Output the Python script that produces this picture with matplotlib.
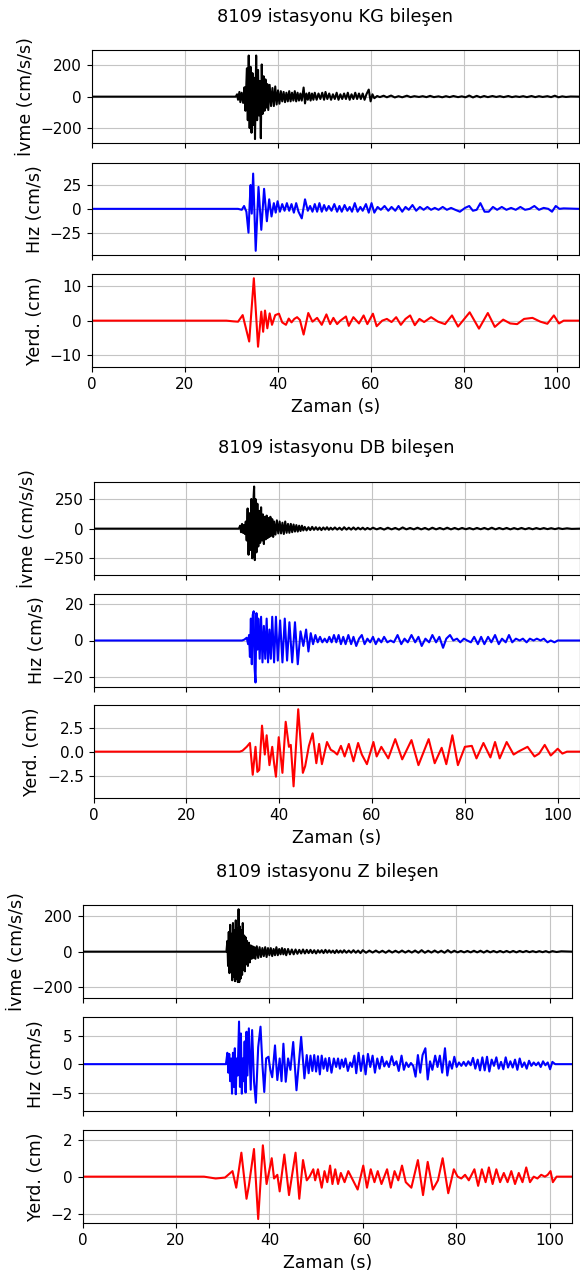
import numpy as np
import matplotlib.pyplot as plt

# 8109 station records: (time s, value) at the visible peaks

# --- KG component ---
kg_ivme = [(0, 0), (31.0, 0), (31.3, 15), (31.5, -20), (31.8, 30), (32.0, -35), (32.3, 25), (32.6, -40),
           (32.9, 60), (33.1, -90), (33.4, 180), (33.6, -150), (33.8, 262), (34.0, -200), (34.2, 190),
           (34.4, -230), (34.6, 150), (34.8, -180), (35.0, 120), (35.15, -270), (35.4, 262), (35.6, -150),
           (35.8, 170), (36.0, -120), (36.2, 100), (36.4, -265), (36.6, 205), (36.8, -110), (37.0, 130),
           (37.2, -90), (37.4, 110), (37.6, -70), (37.8, 80), (38.0, -85), (38.3, 75), (38.6, -60), (38.9, 55),
           (39.2, -60), (39.5, 65), (39.8, -50), (40.1, 40), (40.4, -45), (40.7, 35), (41.0, -30), (41.3, 30),
           (41.6, -35), (41.9, 25), (42.2, -30), (42.5, 35), (42.8, -30), (43.1, 25), (43.4, -25), (43.7, 35),
           (44.0, -30), (44.3, 25), (44.6, -25), (44.9, 20), (45.2, -25), (45.6, 58), (45.9, -43), (46.2, 20),
           (46.5, -20), (46.8, 25), (47.1, -25), (47.4, 20), (47.7, -20), (48.0, 25), (48.4, -20), (48.8, 20),
           (49.2, -15), (49.6, 25), (50.0, -20), (50.3, 30), (50.7, -15), (51.1, 20), (51.5, -20), (51.9, 15),
           (52.3, -15), (52.7, 25), (53.1, -20), (53.5, 15), (53.9, -15), (54.3, 20), (54.7, -15), (55.1, 25),
           (55.5, -20), (55.9, 15), (56.3, -15), (56.7, 25), (57.1, -15), (57.5, 20), (57.9, -15), (58.3, 20),
           (58.7, -20), (59.1, 15), (59.6, 45), (60.0, -30), (60.4, 15), (60.8, -10), (61.4, 4), (62.0, -3),
           (62.8, 6), (63.5, -4), (64.4, 7), (65.2, -5), (66.0, 3), (66.8, -4), (67.8, 6), (68.6, -3),
           (69.4, 3), (70.4, -2), (71.2, 3), (72.0, -3), (72.8, 5), (73.6, -3), (74.6, 2), (75.4, -4), (76.2, 3),
           (77.0, -3), (77.8, 4), (78.8, -3), (79.6, 2), (80.4, -4), (81.2, 7), (82.0, -5), (82.8, 5),
           (83.6, -4), (84.4, 4), (85.2, -3), (86.2, 4), (87.0, -2), (87.8, 3), (88.6, -3), (89.6, 4), (90.4, -3),
           (91.2, 2), (92.0, -2), (92.8, 3), (93.6, -3), (94.6, 4), (95.4, -3), (96.2, 3), (97.0, -2), (98.0, 3),
           (98.8, -3), (99.6, 6), (100.4, -4), (101.2, 2), (102.0, -2), (103.0, 1), (104.8, 0)]

kg_hiz = [(0, 0), (31.5, 0), (32.3, -1), (32.8, 3), (33.3, -3), (33.75, -25), (34.0, 5), (34.2, 25), (34.45, -5),
          (34.75, 37), (35.3, -44), (35.9, 23), (36.5, -22), (37.1, 21), (37.7, -13), (38.2, 10), (38.7, -8),
          (39.2, 6), (39.6, -4), (40.0, 8), (40.5, -3), (41.0, 5), (41.5, -2), (42.0, 6), (42.5, -2), (43.0, 5),
          (43.5, -4), (44.0, 6), (44.5, -3), (45.2, -10), (45.9, 10), (46.5, -2), (47.0, 3), (47.5, -3), (48.0, 5),
          (48.5, -3), (49.0, 6), (49.5, -3), (50.0, 4), (50.5, -2), (51.0, 3), (51.6, -2), (52.2, 5), (52.8, -3),
          (53.3, 3), (53.8, -3), (54.4, 4), (55.0, -2), (55.5, 2), (56.0, -3), (56.6, 6), (57.2, -3), (57.8, 2),
          (58.3, -2), (59.0, 5), (59.6, -4), (60.2, 6), (60.8, -4), (61.5, 2), (62.2, -1), (63.0, 3), (63.8, -2),
          (64.5, 2), (65.3, -2), (66.0, 3), (66.8, -3), (67.5, 2), (68.2, -1), (69.0, 4), (69.8, -2), (70.6, 2),
          (71.4, -1), (72.2, 2), (73.0, -1), (73.8, 1), (74.6, -1), (75.5, 2), (76.4, -1), (77.3, 1), (78.2, -1),
          (79.2, -3), (80.3, 1), (81.2, 3), (82.0, -2), (82.8, -1), (83.6, 6), (84.5, -3), (85.4, -3), (86.3, 2),
          (87.2, -1), (88.2, 2), (89.2, -1), (90.2, 1), (91.2, -1), (92.2, 2), (93.2, -1), (94.2, 0), (95.2, 3),
          (96.2, -1), (97.2, 1), (98.2, 0), (99.0, -3), (99.8, 3), (100.6, 0), (101.5, 0.5), (104.8, 0)]

kg_yerd = [(0, 0), (29.0, 0), (30.5, -0.2), (31.5, -0.3), (32.5, 1.6), (33.9, -6.0), (34.9, 12.2), (35.8, -7.5),
           (36.5, 2.6), (36.9, -3.2), (37.3, 2.9), (37.8, -2.2), (38.3, 2.1), (38.8, -1.2), (39.5, 1.6), (40.3, 2.0),
           (41.0, -0.5), (41.8, -1.2), (42.4, 0.6), (43.0, -0.5), (43.6, 0.5), (44.2, 1.0), (44.8, 0.2), (45.6, -4.0),
           (46.6, 2.2), (47.5, -0.3), (48.5, 0.8), (49.5, -1.2), (50.5, 1.8), (51.3, -1.0), (52.0, 0.8), (52.8, -1.0),
           (53.5, 0.0), (54.7, 1.2), (55.3, -1.5), (56.3, 1.0), (57.5, -0.8), (58.5, 1.5), (59.3, -1.0), (60.5, 2.0),
           (61.3, -1.6), (62.5, 0.0), (63.5, 0.5), (64.5, -0.4), (65.5, 1.0), (66.5, -1.2), (67.5, 0.5), (68.5, 1.5),
           (69.5, -1.3), (70.5, 0.5), (71.5, -0.4), (73.0, 1.0), (74.5, -0.3), (76.0, -1.0), (77.5, 1.5),
           (78.8, -1.7), (81.3, 2.4), (83.3, -2.3), (85.2, 2.2), (86.7, -1.8), (88.5, 0.3), (90.0, -0.8),
           (91.5, -1.0), (93.0, 0.5), (94.8, 0.8), (96.5, -0.3), (98.0, -0.9), (99.4, 1.5), (100.5, -0.8),
           (101.5, 0.0), (104.8, 0.0)]

# --- DB component ---
db_ivme = [(0, 0), (31.3, 0), (31.6, 25), (31.8, -30), (32.0, 40), (32.2, -35), (32.4, 30), (32.6, -45), (32.8, 60),
           (33.0, -100), (33.2, 170), (33.4, -220), (33.6, 130), (33.8, -180), (34.0, 250), (34.2, -250),
           (34.4, 200), (34.6, 355), (34.75, -265), (34.9, 250), (35.1, -200), (35.3, 210), (35.5, -150),
           (35.7, 150), (35.9, -120), (36.1, 180), (36.3, -100), (36.5, 120), (36.7, -130), (36.9, 100),
           (37.1, -90), (37.3, 110), (37.5, -80), (37.7, 90), (37.9, -70), (38.1, 100), (38.3, -60), (38.5, 80),
           (38.7, -70), (38.9, 60), (39.2, -50), (39.5, 70), (39.8, -40), (40.1, 60), (40.4, -40), (40.7, 50),
           (41.0, -45), (41.3, 60), (41.6, -35), (41.9, 40), (42.2, -35), (42.5, 40), (42.8, -30), (43.1, 35),
           (43.4, -25), (43.7, 30), (44.0, -25), (44.3, 25), (44.6, -20), (44.9, 25), (45.2, -15), (45.5, 15),
           (45.9, -15), (46.3, 12), (46.7, -12), (47.1, 15), (47.5, -10), (47.9, 12), (48.3, -10), (48.7, 10),
           (49.1, -12), (49.5, 10), (49.9, -8), (50.3, 12), (50.7, -10), (51.1, 8), (51.5, -8), (52.0, 10),
           (52.5, -8), (53.0, 8), (53.5, -10), (54.0, 12), (54.5, -8), (55.0, 8), (55.5, -8), (56.0, 10),
           (56.5, -8), (57.0, 8), (57.5, -6), (58.0, 8), (58.5, -8), (59.0, 6), (59.6, -6), (60.2, 8), (61.0, -6),
           (61.8, 6), (62.6, -8), (63.4, 8), (64.2, -6), (65.0, 6), (65.8, -8), (66.6, 10), (67.4, -6), (68.2, 6),
           (69.0, -6), (69.8, 8), (70.6, -6), (71.4, 6), (72.2, -8), (73.0, 8), (73.8, -6), (74.6, 6), (75.4, -6),
           (76.2, 8), (77.0, -6), (77.8, 6), (78.6, -6), (79.4, 6), (80.2, -5), (81.0, 5), (81.8, -6), (82.6, 6),
           (83.4, -5), (84.2, 6), (85.0, -6), (85.8, 8), (86.6, -6), (87.4, 6), (88.2, -5), (89.0, 6), (89.8, -6),
           (90.6, 5), (91.4, -5), (92.2, 6), (93.0, -5), (93.8, 5), (94.6, -5), (95.4, 5), (96.2, -4), (97.0, 5),
           (97.8, -4), (98.6, 4), (99.4, -4), (100.2, 4), (101.0, -3), (102.0, 3), (103.0, -2), (104.8, 0)]

db_hiz = [(0, 0), (32.0, 0), (32.5, 0.5), (33.0, 1.5), (33.3, -2), (33.5, 3), (33.7, -9), (33.9, 12), (34.1, -13),
          (34.3, 14), (34.5, 16), (34.7, -15), (34.9, -23), (35.1, 15), (35.3, -5), (35.5, 12), (35.8, -10),
          (36.1, 13), (36.4, -12), (36.7, 8), (37.0, -10), (37.3, 12), (37.6, -12), (37.9, 6), (38.2, -10),
          (38.5, 13), (38.9, -12), (39.3, 13), (39.7, -11), (40.2, 11), (40.7, -12), (41.2, 12), (41.7, -11),
          (42.2, 10), (42.8, -12), (43.4, 10), (44.0, -13), (44.6, 5), (45.2, -3), (45.8, 6), (46.3, -6), (46.8, 4),
          (47.3, -2), (47.8, 3), (48.3, -1), (48.8, 2), (49.3, -1), (49.8, 1), (50.3, -1), (50.8, 2), (51.3, -1),
          (51.8, 3), (52.3, -1), (52.8, 3), (53.3, -2), (53.8, 2), (54.3, -2), (54.9, 3), (55.5, -2), (56.0, 2),
          (56.6, -3), (57.2, 1), (57.8, 3), (58.4, -2), (59.0, 1), (59.6, -1), (60.2, 2), (60.8, -2), (61.4, 1),
          (62.0, -1), (62.6, 2), (63.3, -1), (64.0, 0), (64.7, -1), (65.5, 3), (66.3, -2), (67.0, 1), (67.7, -1),
          (68.5, 3), (69.3, -1), (70.0, 2), (70.7, -3), (71.5, 1), (72.3, -1), (73.0, 3), (73.8, -1), (74.5, 2),
          (75.3, -4), (76.0, 1), (76.8, 3), (77.5, 0), (78.3, 1), (79.0, -1), (79.8, 1), (80.5, 0), (81.3, -1),
          (82.0, 2), (82.8, -2), (83.5, 2), (84.2, -2), (85.0, 2), (85.7, -1), (86.5, 3), (87.3, -2), (88.0, 1),
          (88.8, -1), (89.5, 3), (90.2, -1), (91.0, 1), (91.8, 0), (92.5, 1), (93.3, -1), (94.0, 1), (94.8, 0),
          (95.5, 1), (96.3, 0), (97.0, 1), (97.8, -1), (98.5, 0), (99.3, -1), (100.0, 0), (101.0, 0), (104.8, 0)]

db_yerd = [(0, 0), (31.5, 0), (32.1, 0.1), (33.0, 0.5), (33.7, 0.9), (34.3, -2.4), (34.9, 0.5), (35.3, -2.1),
           (35.7, -1.9), (36.3, 2.7), (36.9, -0.3), (37.3, 1.7), (37.9, -1.4), (38.5, 0.5), (38.9, -1.2),
           (39.3, -2.6), (39.9, 1.5), (40.7, -2.2), (41.4, 3.1), (42.1, 0.5), (42.5, 0.7), (43.1, -3.6), (44.1, 4.4),
           (45.1, -2.2), (45.6, -1.5), (46.4, 0.6), (47.2, 1.9), (48.0, -1.2), (48.6, 0.8), (49.2, -1.3), (50.3, 1.0),
           (51.1, 0.2), (51.8, 0.0), (52.5, -0.3), (53.3, 0.6), (54.1, -0.5), (55.0, 0.8), (56.0, -1.0), (57.0, 0.9),
           (57.8, -0.3), (58.9, -1.3), (60.3, 1.0), (61.0, -0.5), (62.0, 0.5), (63.5, -0.7), (65.0, 1.3),
           (66.5, -0.8), (68.5, 1.2), (70.0, -1.4), (72.2, 1.3), (73.5, -1.2), (75.0, 0.4), (76.0, -1.3),
           (77.3, 1.7), (78.5, -1.4), (80.0, 0.5), (81.5, 0.6), (82.5, -0.7), (84.0, 0.9), (85.5, -0.6), (86.5, 1.0),
           (87.5, -0.7), (89.0, 1.0), (90.5, -0.3), (91.5, 0.0), (93.5, 0.5), (95.0, -0.5), (96.0, -0.2),
           (97.2, 0.7), (98.5, -0.4), (100.0, 0.3), (101.0, -0.2), (102.0, 0.0), (104.8, 0.0)]

# --- Z component ---
z_ivme = [(0, 0), (30.8, 0), (31.0, 60), (31.15, -80), (31.3, 110), (31.45, -120), (31.6, 150), (31.75, -110),
          (31.9, 100), (32.05, -160), (32.2, 160), (32.35, -140), (32.5, 120), (32.65, -165), (32.8, 175),
          (32.95, -150), (33.1, 130), (33.25, -170), (33.4, 237), (33.55, -170), (33.7, 140), (33.85, -150),
          (34.0, 120), (34.15, -130), (34.3, 160), (34.45, -100), (34.6, 90), (34.75, -110), (34.9, 80),
          (35.05, -70), (35.2, 60), (35.4, -80), (35.6, 50), (35.8, -60), (36.0, 35), (36.2, -40), (36.4, 30),
          (36.6, -35), (36.8, 25), (37.0, -40), (37.3, 30), (37.6, -35), (37.9, 25), (38.2, -30), (38.5, 20),
          (38.8, -25), (39.1, 25), (39.4, -30), (39.7, 20), (40.0, -20), (40.3, 20), (40.6, -25), (40.9, 15),
          (41.2, -20), (41.5, 25), (41.8, -20), (42.1, 15), (42.4, -15), (42.7, 20), (43.0, -15), (43.3, 15),
          (43.6, -20), (44.0, 15), (44.4, -15), (44.8, 12), (45.2, -15), (45.6, 12), (46.0, -12), (46.4, 10),
          (46.8, -10), (47.2, 12), (47.6, -10), (48.0, 10), (48.4, -8), (48.8, 10), (49.2, -8), (49.6, 8),
          (50.0, -10), (50.4, 8), (50.8, -6), (51.2, 8), (51.6, -8), (52.0, 10), (52.4, -6), (52.8, 8), (53.2, -6),
          (53.6, 6), (54.0, -8), (54.4, 8), (54.8, -6), (55.2, 6), (55.6, -6), (56.0, 8), (56.5, -6), (57.0, 6),
          (57.5, -6), (58.0, 8), (58.5, -6), (59.0, 6), (59.5, -8), (60.0, 8), (60.7, -6), (61.4, 6), (62.1, -5),
          (62.8, 6), (63.5, -5), (64.2, 5), (64.9, -6), (65.6, 6), (66.3, -5), (67.0, 5), (67.7, -5), (68.4, 6),
          (69.1, -5), (69.8, 5), (70.5, -5), (71.2, 6), (71.9, -6), (72.6, 8), (73.3, -6), (74.0, 5), (74.7, -5),
          (75.4, 6), (76.1, -5), (76.8, 5), (77.5, -6), (78.2, 8), (78.9, -5), (79.6, 5), (80.3, -4), (81.0, 4),
          (81.7, -4), (82.4, 4), (83.1, -4), (83.8, 5), (84.5, -4), (85.2, 5), (85.9, -5), (86.6, 5), (87.3, -4),
          (88.0, 4), (88.7, -4), (89.4, 4), (90.1, -4), (90.8, 4), (91.5, -4), (92.2, 4), (92.9, -4), (93.6, 4),
          (94.3, -3), (95.0, 4), (95.7, -3), (96.4, 3), (97.1, -3), (97.8, 3), (98.5, -3), (99.2, 3), (99.9, -4),
          (100.6, 3), (101.5, -2), (102.5, 2), (104.8, 0)]

z_hiz = [(0, 0), (30.7, 0), (31.0, 2.0), (31.2, -1.5), (31.4, 1.8), (31.6, -3), (31.8, 1), (32.0, -5.2), (32.2, 2),
         (32.4, -4), (32.6, 2.8), (32.8, -5.3), (33.0, 1), (33.2, -2), (33.5, 7.5), (33.7, -4), (33.9, 5.4),
         (34.1, -5.2), (34.3, 1), (34.5, -3), (34.7, 4), (34.9, -5), (35.1, 5.7), (35.3, -2), (35.6, 6.3),
         (36.0, -4.5), (36.3, 6.0), (36.7, -3), (37.1, -6.8), (37.6, 3), (38.1, 6.6), (38.5, 0), (38.9, -4.9),
         (39.3, 1), (39.8, 1.3), (40.2, -1), (40.6, -2.3), (41.2, 3.3), (41.7, -2.8), (42.2, 1), (42.6, -3),
         (43.0, 3.6), (43.5, -3.1), (44.0, 1), (44.5, -1), (45.1, 3.9), (45.8, -4.6), (46.8, 4.8), (47.5, -2.5),
         (48.0, 1.6), (48.4, -1.6), (48.8, 1.5), (49.2, -1.2), (49.6, 1.6), (50.0, -1.3), (50.4, 1.4), (50.8, -1.8),
         (51.2, 1.5), (51.6, -0.8), (52.0, 1.0), (52.4, -1.2), (52.8, 1.1), (53.3, -1.5), (53.8, 1.0), (54.3, -0.5),
         (54.7, 1.0), (55.1, -0.8), (55.5, 0.8), (55.9, -0.5), (56.3, 1.0), (56.8, -1.2), (57.3, 0.3), (57.7, -0.5),
         (58.2, 1.5), (58.6, -1.6), (59.1, 2.0), (59.6, -1.2), (60.1, 1.5), (60.6, -1.8), (61.1, 1.8), (61.6, -0.5),
         (62.1, 1.5), (62.6, -1.5), (63.1, 1.0), (63.6, -0.8), (64.1, 1.3), (64.6, -0.4), (65.1, 0.5), (65.6, -0.5),
         (66.2, 1.4), (66.7, -0.2), (67.2, 0.5), (67.7, -1.2), (68.3, 1.5), (68.8, -1.0), (69.3, 0.3), (69.8, -0.5),
         (70.3, 0.2), (70.8, -0.3), (71.3, -2.2), (71.8, 1.6), (72.3, -1.5), (72.8, 1.6), (73.4, 2.8), (73.9, -2.7),
         (74.4, 0.5), (74.9, -1.0), (75.5, 1.5), (76.0, -0.5), (76.5, 1.5), (77.0, -1.5), (77.6, 2.8), (78.1, -2.0),
         (78.6, 0.5), (79.1, -0.8), (79.6, 1.3), (80.1, -0.5), (80.6, 0.3), (81.1, -0.3), (81.6, 0.4), (82.1, -0.3),
         (82.6, 0.5), (83.1, -0.2), (83.6, 1.1), (84.1, -0.8), (84.6, 0.8), (85.1, -1.1), (85.6, 1.2), (86.1, -1.1),
         (86.6, 1.3), (87.1, -1.3), (87.6, 0.8), (88.1, -0.3), (88.6, 1.2), (89.1, -0.8), (89.6, 0.4), (90.1, -0.9),
         (90.6, 1.2), (91.1, -0.6), (91.6, 0.5), (92.1, -0.6), (92.6, 0.8), (93.1, -1.0), (93.6, 1.0), (94.1, -0.5),
         (94.6, 0.3), (95.1, -0.8), (95.6, 0.6), (96.1, -0.3), (96.6, 0.3), (97.1, -0.2), (97.6, 0.3), (98.1, -0.5),
         (98.6, 0.5), (99.1, -0.2), (99.6, 0.3), (100.1, -0.9), (100.6, 0.4), (101.2, 0), (104.8, 0)]

z_yerd = [(0, 0), (26.0, 0), (28.5, -0.1), (30.5, -0.05), (32.1, 0.3), (32.9, -0.6), (34.0, 1.3), (35.1, -1.2),
          (35.6, -0.5), (36.7, 1.5), (37.6, -2.3), (38.6, 1.7), (39.4, -0.4), (40.5, 1.0), (41.0, -0.1), (41.7, 0.1),
          (42.2, -0.8), (43.2, 1.2), (44.2, -1.0), (45.6, 1.3), (46.4, -1.2), (47.2, 0.9), (48.0, -0.2), (48.6, 0.0),
          (49.4, 0.4), (49.8, -0.2), (50.4, 0.4), (51.2, -0.6), (51.8, 0.3), (52.4, -0.3), (53.0, 0.6), (53.5, -0.4),
          (54.1, 0.4), (54.7, -0.4), (55.3, 0.2), (56.1, -0.3), (56.9, 0.3), (57.7, -0.1), (58.9, -0.7), (60.1, 0.6),
          (60.9, -0.6), (61.7, 0.4), (62.5, -0.3), (63.2, 0.3), (64.0, -0.4), (65.2, 0.4), (66.0, -0.6), (66.8, 0.3),
          (67.6, -0.2), (68.4, 0.6), (69.2, -0.3), (70.4, -0.6), (71.8, 0.9), (72.9, -1.0), (73.9, 0.8), (75.0, -0.7),
          (76.1, -0.2), (77.1, 1.0), (78.3, -0.9), (79.5, 0.4), (80.3, 0.0), (81.1, -0.1), (81.9, 0.1), (82.7, -0.2),
          (83.9, 0.4), (84.7, -0.5), (85.5, 0.4), (86.3, -0.3), (87.0, 0.5), (87.8, -0.4), (88.6, 0.4), (89.4, -0.3),
          (90.2, 0.2), (91.0, -0.3), (91.8, 0.3), (92.6, -0.4), (93.4, 0.2), (94.2, -0.3), (95.0, 0.5), (95.8, -0.3),
          (96.6, 0.0), (97.4, -0.1), (98.2, 0.1), (99.0, 0.0), (99.6, 0.1), (100.2, 0.3), (100.7, -0.3), (101.5, 0.0),
          (104.8, 0.0)]

components = ['KG', 'DB', 'Z']
records = {'KG': [kg_ivme, kg_hiz, kg_yerd],
           'DB': [db_ivme, db_hiz, db_yerd],
           'Z': [z_ivme, z_hiz, z_yerd]}
ylabels = ['İvme (cm/s/s)', 'Hız (cm/s)', 'Yerd. (cm)']
colors = ['k', 'b', 'r']
yticks = {'KG': [[-200, 0, 200], [-25, 0, 25], [-10, 0, 10]],
          'DB': [[-250, 0, 250], [-20, 0, 20], [-2.5, 0, 2.5]],
          'Z': [[-200, 0, 200], [-5, 0, 5], [-2, 0, 2]]}
xticks = [0, 20, 40, 60, 80, 100]

# layout in pixels of the 580x1273 picture: left, right, title y, (top, bottom) of each panel
W, H = 580, 1273
layout = {'KG': (91.5, 579, 17, [(50, 143.3), (162.7, 255), (274, 367.3)]),
          'DB': (93.5, 580, 448, [(482.3, 575), (594.3, 686.7), (705, 798.3)]),
          'Z': (82.6, 572, 872, [(905, 998.3), (1017.3, 1111), (1130, 1223.3)])}

fig = plt.figure(figsize=(W / 100, H / 100), dpi=100)

for comp in components:
    left, right, ty, boxes = layout[comp]
    fig.text((left + right) / 2 / W, 1 - ty / H, '8109 istasyonu %s bileşen' % comp,
             ha='center', va='center', fontsize=12.8)
    for i, (top, bottom) in enumerate(boxes):
        ax = fig.add_axes([left / W, 1 - bottom / H, (right - left) / W, (bottom - top) / H])
        data = np.array(records[comp][i], dtype=float)
        t, v = data[:, 0], data[:, 1]
        ax.plot(t, v, color=colors[i], lw=1.5)
        lim = 1.1 * np.abs(v).max()
        ax.set_ylim(-lim, lim)
        ax.set_xlim(0, t[-1])
        ax.set_xticks(xticks)
        ax.set_yticks(yticks[comp][i])
        ax.grid(True, color='#c4c4c4', lw=0.8)
        ax.tick_params(labelsize=11)
        ax.set_ylabel(ylabels[i], fontsize=12.5)
        if i < 2:
            ax.tick_params(labelbottom=False)
        else:
            ax.set_xlabel('Zaman (s)', fontsize=12.5)

plt.savefig('out.png', dpi=100)
